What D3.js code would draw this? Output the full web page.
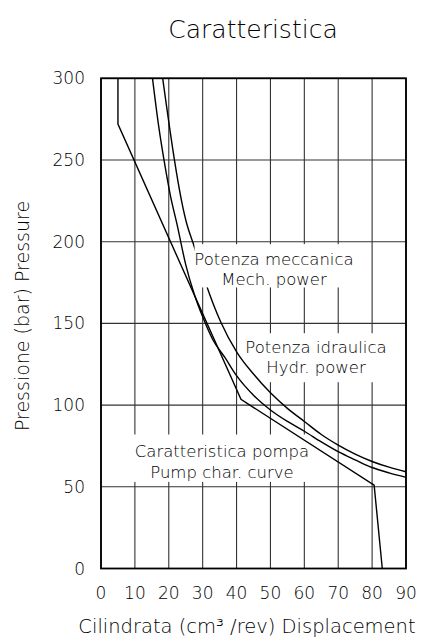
<!DOCTYPE html>
<html><head><meta charset="utf-8">
<script src="https://cdn.jsdelivr.net/npm/d3@7/dist/d3.min.js"></script>
<style>
html,body{margin:0;padding:0;background:#fff;}
svg{display:block;}
text{font-family:"DejaVu Sans",sans-serif;font-weight:200;fill:#000;}
</style></head>
<body>
<script>
// ---- data ----
const xTicks = [0,10,20,30,40,50,60,70,80,90];
const yTicks = [0,50,100,150,200,250,300];

// Pump characteristic curve (displacement cm3/rev, pressure bar)
const pumpV = [5, 5, 41.3, 80.6, 83];
const pumpP = [300, 272, 103.5, 51, 0];

// Hydraulic power curve
const hydrV = [15.2, 17, 19, 20.5, 22.5, 25, 27.5, 30, 33, 36.6, 40, 45, 50, 55, 60, 65, 70, 75, 80, 85, 90];
const hydrP = [300, 271, 245, 228, 210, 186, 168, 154, 140, 129, 118, 106, 97, 90, 84, 77.5, 71.5, 66.5, 61.8, 58.5, 55.8];

// Mechanical power curve
const mechV = [18.2, 25.3, 27.2, 31, 35.3, 40.2, 45, 50, 55, 60, 65, 70, 75, 80, 85, 90];
const mechP = [300, 211, 199, 174, 151, 132, 119, 107.5, 98, 90, 82, 75.5, 70, 65.5, 62, 59.2];

const title = "Caratteristica";
const xTitle = "Cilindrata (cm³ /rev) Displacement";
const yTitle = "Pressione (bar) Pressure";
const labelMech = ["Potenza meccanica", "Mech. power"];
const labelHydr = ["Potenza idraulica", "Hydr. power"];
const labelPump = ["Caratteristica pompa", "Pump char. curve"];

// ---- drawing ----
const W = 431, H = 639;
const svg = d3.select("body").append("svg").attr("width", W).attr("height", H);
svg.append("rect").attr("width", W).attr("height", H).attr("fill", "#fff");

const x = d3.scaleLinear().domain([0, 90]).range([101, 406]);
const y = d3.scaleLinear().domain([0, 300]).range([568.5, 78.3]);

// grid
const grid = svg.append("g");
grid.selectAll("line.v").data(xTicks).join("line")
  .attr("x1", d => x(d)).attr("x2", d => x(d))
  .attr("y1", y(0)).attr("y2", y(300))
  .attr("stroke", "#333").attr("stroke-width", 1.1);
grid.selectAll("line.h").data(yTicks).join("line")
  .attr("x1", x(0)).attr("x2", x(90))
  .attr("y1", d => y(d)).attr("y2", d => y(d))
  .attr("stroke", "#333").attr("stroke-width", 1.1);

// label boxes under curves
function box(x0, y0, x1, y1) {
  return svg.append("rect").attr("x", x0).attr("y", y0)
    .attr("width", x1 - x0).attr("height", y1 - y0).attr("fill", "#fff");
}
box(x(8.5), y(82), x(62), y(53));     // pump label box
box(x(41.5), y(144), x(86.5), y(114)); // hydr label box

// frame
svg.append("rect").attr("x", x(0)).attr("y", y(300))
  .attr("width", x(90) - x(0)).attr("height", y(0) - y(300))
  .attr("fill", "none").attr("stroke", "#000").attr("stroke-width", 1.8);

// curves
const zip = (a, b) => a.map((v, i) => [v, b[i]]);
svg.append("path").datum(zip(pumpV, pumpP))
  .attr("d", d3.line().x(d => x(d[0])).y(d => y(d[1])).curve(d3.curveLinear))
  .attr("fill", "none").attr("stroke", "#000").attr("stroke-width", 1.4);
svg.append("path").datum(zip(hydrV, hydrP))
  .attr("d", d3.line().x(d => x(d[0])).y(d => y(d[1])).curve(d3.curveMonotoneX))
  .attr("fill", "none").attr("stroke", "#000").attr("stroke-width", 1.4);
svg.append("path").datum(zip(mechV, mechP))
  .attr("d", d3.line().x(d => x(d[0])).y(d => y(d[1])).curve(d3.curveMonotoneX))
  .attr("fill", "none").attr("stroke", "#000").attr("stroke-width", 1.4);

// mech label box over curve
box(x(27.6), y(198.5), x(76.5), y(172));

// labels
function label(lines, cx, y1, y2) {
  svg.append("text").attr("x", cx).attr("y", y1).attr("text-anchor", "middle")
    .attr("font-size", 16.5).text(lines[0]);
  svg.append("text").attr("x", cx).attr("y", y2).attr("text-anchor", "middle")
    .attr("font-size", 16.5).text(lines[1]);
}
label(labelMech, 274, 265, 285);
label(labelHydr, 316, 353, 373);
label(labelPump, 222, 457, 478);

// tick labels
svg.selectAll("text.yt").data(yTicks).join("text")
  .attr("x", 85).attr("y", d => y(d) + 6).attr("text-anchor", "end")
  .attr("font-size", 17).text(d => d);
svg.selectAll("text.xt").data(xTicks).join("text")
  .attr("x", d => x(d)).attr("y", 599).attr("text-anchor", "middle")
  .attr("font-size", 17).text(d => d);

// titles
svg.append("text").attr("x", 253).attr("y", 38).attr("text-anchor", "middle")
  .attr("font-size", 25).text(title);
svg.append("text").attr("x", 247).attr("y", 633).attr("text-anchor", "middle")
  .attr("font-size", 19.5).text(xTitle);
svg.append("text").attr("transform", "translate(29,316) rotate(-90)")
  .attr("text-anchor", "middle").attr("font-size", 19).text(yTitle);
</script>
</body></html>
